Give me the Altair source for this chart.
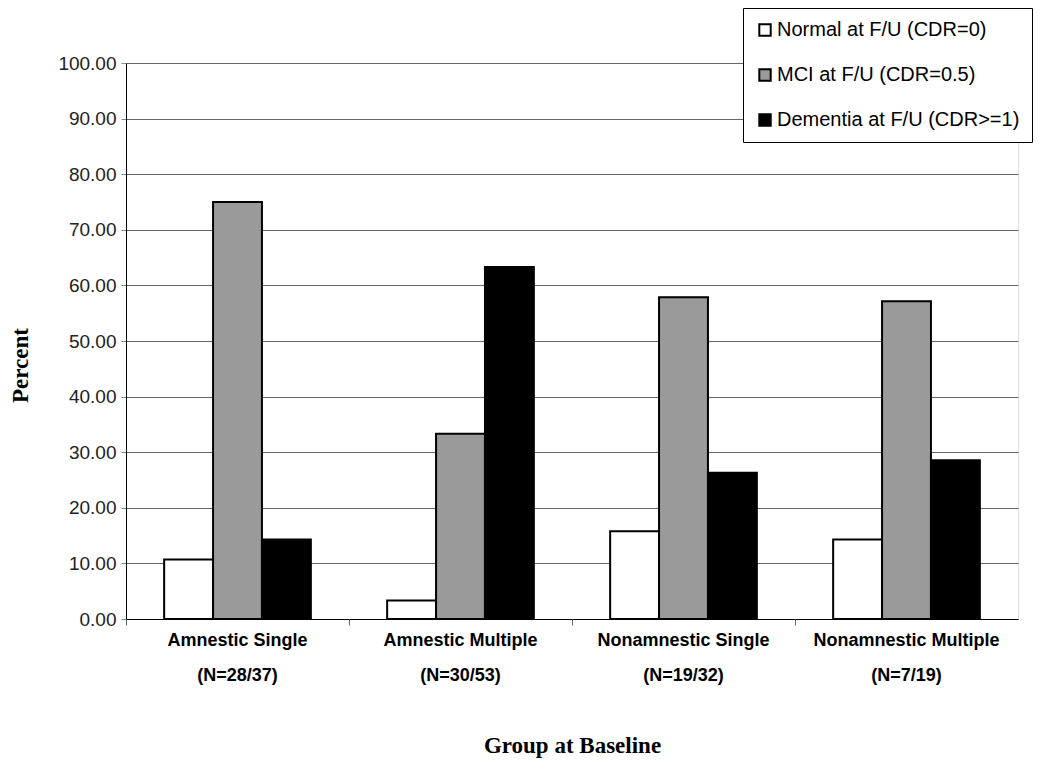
import altair as alt
import pandas as pd

groups = ["Amnestic Single", "Amnestic Multiple", "Nonamnestic Single", "Nonamnestic Multiple"]
n_labels = ["(N=28/37)", "(N=30/53)", "(N=19/32)", "(N=7/19)"]
series = ["Normal at F/U (CDR=0)", "MCI at F/U (CDR=0.5)", "Dementia at F/U (CDR>=1)"]
normal = [10.71, 3.33, 15.79, 14.29]
mci = [75.00, 33.33, 57.89, 57.14]
dementia = [14.29, 63.33, 26.32, 28.57]
y_ticks = [0, 10, 20, 30, 40, 50, 60, 70, 80, 90, 100]

cats = [f"{g}|{n}" for g, n in zip(groups, n_labels)]
rows = []
for s, vals in zip(series, [normal, mci, dementia]):
    for c, v in zip(cats, vals):
        rows.append({"group": c, "series": s, "value": v})
df = pd.DataFrame(rows)

x_scale = alt.Scale(paddingInner=0, paddingOuter=0)
y_scale = alt.Scale(domain=[0, 100], nice=False)
y_axis = alt.Axis(title="Percent", values=y_ticks, format=".2f",
                  labelFont="Liberation Sans", labelFontSize=19, labelColor="#222",
                  labelPadding=5, tickSize=5, tickColor="#888",
                  domainColor="black", domainWidth=1,
                  grid=True, gridColor="#666", gridWidth=1,
                  titleFont="Liberation Serif", titleFontSize=23, titleFontWeight="bold",
                  titleColor="black", titleAngle=-90, titleX=-99, titleY=302,
                  titleAlign="center", titleBaseline="alphabetic")

bars = alt.Chart(df).mark_bar(stroke="black", strokeWidth=2).encode(
    x=alt.X("group:N", sort=cats, scale=x_scale,
            axis=alt.Axis(title="Group at Baseline", labelAngle=0, orient="bottom",
                          labelExpr="split(datum.label, '|')",
                          labelFont="Liberation Sans", labelFontSize=18, labelFontWeight="bold",
                          labelColor="black", labelLineHeight=35, labelPadding=12,
                          labelLimit=300, labelOverlap=False,
                          ticks=False, domainColor="black", domainWidth=1,
                          titleFont="Liberation Serif", titleFontSize=23, titleFontWeight="bold",
                          titleColor="black", titleY=133, titleBaseline="alphabetic")),
    xOffset=alt.XOffset("series:N", sort=series,
                        scale=alt.Scale(paddingInner=0, paddingOuter=0.78)),
    y=alt.Y("value:Q", scale=y_scale, axis=y_axis),
    color=alt.Color("series:N", sort=series,
                    scale=alt.Scale(domain=series, range=["white", "#9a9a9a", "black"]),
                    legend=alt.Legend(title=None, orient="none", legendX=617, legendY=-55,
                                      fillColor="white", strokeColor="black", padding=12,
                                      symbolType="square", symbolSize=130, symbolStrokeWidth=2,
                                      symbolStrokeColor="black", labelFont="Liberation Sans",
                                      labelFontSize=20, labelColor="black", labelOffset=2,
                                      rowPadding=25, labelLimit=400)),
)

# category boundary ticks on the x axis
ticks = alt.Chart(df).mark_bar(opacity=0).encode(
    x=alt.X("group:N", sort=cats, scale=x_scale,
            axis=alt.Axis(title=None, labels=False, domain=False, grid=False, orient="bottom",
                          ticks=True, tickSize=6, tickColor="#666", bandPosition=0)),
    y=alt.Y("value:Q", scale=y_scale, axis=y_axis),
)

chart = alt.layer(bars, ticks).resolve_axis(x="independent").properties(
    width=892, height=556,
    autosize=alt.AutoSizeParams(type="none"),
    padding={"left": 118, "top": 55, "right": 24, "bottom": 141},
).configure_view(stroke="transparent", strokeWidth=0).configure(background="white")

chart.save("out.html", embed_options={"renderer": "svg", "actions": False})
